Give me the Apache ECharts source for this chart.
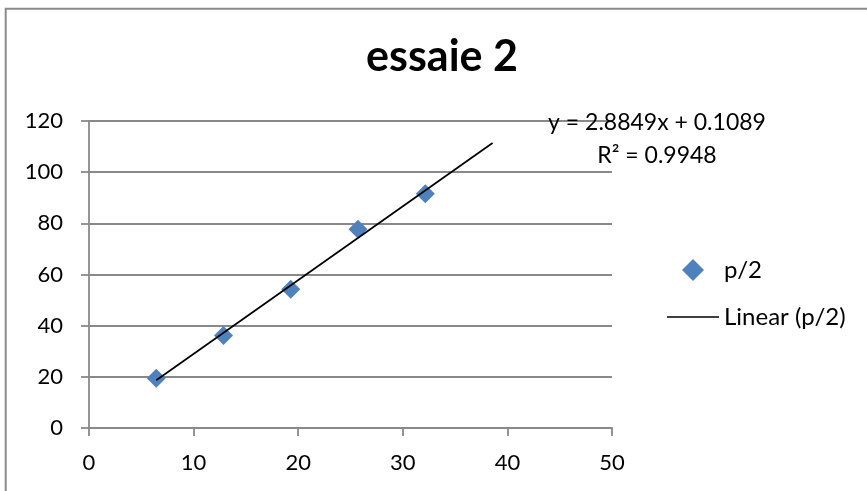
<!DOCTYPE html>
<html>
<head>
<meta charset="utf-8">
<script src="https://cdn.jsdelivr.net/npm/echarts@6/dist/echarts.min.js"></script>
<style>
  html, body { margin: 0; padding: 0; background: #ffffff; }
  #chart { width: 867px; height: 491px; }
</style>
</head>
<body>
<div id="chart"></div>
<script>
// Measured points (x, p/2)
const xValues = [6.43, 12.86, 19.29, 25.72, 32.15];
const yValues = [19.4, 36.2, 54.2, 77.7, 91.6];

// Axis tick labels
const xTickLabels = [0, 10, 20, 30, 40, 50];
const yTickLabels = [0, 20, 40, 60, 80, 100, 120];

// Linear trendline fitted to the points, and its span along x
const trendSlope = 2.8849;
const trendIntercept = 0.1089;
const trendR2 = 0.9948;
const trendXRange = [6.43, 38.58];

const seriesName = 'p/2';
const trendName = 'Linear (p/2)';
const chartTitle = 'essaie 2';

const FONT = 'Lato';
const GRID_GRAY = '#898989';
const MARKER_BLUE = '#4F81BD';

const scatterData = xValues.map((x, i) => [x, yValues[i]]);
const trendData = trendXRange.map(x => [x, trendSlope * x + trendIntercept]);

const eqText = 'y = ' + trendSlope.toFixed(4) + 'x + ' + trendIntercept.toFixed(4);
const r2Text = 'R² = ' + trendR2.toFixed(4);

// legend glyphs: a square-aspect diamond and a thin horizontal stroke
const diamondIcon = 'path://M0,-1L1,0L0,1L-1,0Z';
const strokeIcon = 'path://M0,0H52V1.6H0Z';

const chart = echarts.init(document.getElementById('chart'), null, { renderer: 'canvas' });

chart.setOption({
  animation: false,
  backgroundColor: '#ffffff',
  title: {
    text: chartTitle,
    left: 437,
    top: 31,
    textAlign: 'center',
    textStyle: { fontFamily: FONT, fontWeight: 'bold', fontSize: 43, color: '#000000' }
  },
  grid: { left: 89, top: 121, width: 523, height: 307, containLabel: false },
  xAxis: {
    type: 'value',
    min: xTickLabels[0],
    max: xTickLabels[xTickLabels.length - 1],
    interval: xTickLabels[1] - xTickLabels[0],
    axisLine: { show: true, lineStyle: { color: GRID_GRAY, width: 1.8 } },
    axisTick: { show: true, inside: false, length: 8, lineStyle: { color: GRID_GRAY, width: 1.8 } },
    splitLine: { show: false },
    axisLabel: { fontFamily: FONT, fontSize: 22, color: '#000000', margin: 24 }
  },
  yAxis: {
    type: 'value',
    min: yTickLabels[0],
    max: yTickLabels[yTickLabels.length - 1],
    interval: yTickLabels[1] - yTickLabels[0],
    axisLine: { show: true, lineStyle: { color: GRID_GRAY, width: 1.8 } },
    axisTick: { show: true, inside: false, length: 8, lineStyle: { color: GRID_GRAY, width: 1.8 } },
    splitLine: { show: true, lineStyle: { color: GRID_GRAY, width: 1.8 } },
    axisLabel: { fontFamily: FONT, fontSize: 22, color: '#000000', margin: 26 }
  },
  legend: {
    orient: 'vertical',
    left: 667,
    top: 257,
    padding: 0,
    itemWidth: 52,
    itemHeight: 22,
    itemGap: 21,
    symbolKeepAspect: true,
    textStyle: { fontFamily: FONT, fontSize: 24, color: '#000000', lineHeight: 26 },
    data: [
      { name: seriesName, icon: diamondIcon },
      { name: trendName, icon: strokeIcon, itemStyle: { color: '#000000' } }
    ]
  },
  series: [
    {
      name: trendName,
      type: 'line',
      data: trendData,
      symbol: 'none',
      lineStyle: { color: '#000000', width: 1.7 },
      itemStyle: { color: '#000000' },
      z: 3
    },
    {
      name: seriesName,
      type: 'scatter',
      data: scatterData,
      symbol: 'diamond',
      symbolSize: 19,
      itemStyle: { color: MARKER_BLUE, opacity: 1 },
      z: 2
    }
  ],
  graphic: [
    {
      type: 'rect',
      shape: { x: 5.7, y: 8.8, width: 1000, height: 700 },
      style: { fill: 'none', stroke: '#8a8a8a', lineWidth: 2 },
      silent: true
    },
    {
      type: 'text',
      x: 657, y: 134,
      style: { text: eqText, fontFamily: FONT, fontSize: 23, fill: '#000000', textAlign: 'center', textVerticalAlign: 'bottom' },
      z: 10
    },
    {
      type: 'text',
      x: 657, y: 167,
      style: { text: r2Text, fontFamily: FONT, fontSize: 23, fill: '#000000', textAlign: 'center', textVerticalAlign: 'bottom' },
      z: 10
    }
  ]
});
</script>
</body>
</html>
